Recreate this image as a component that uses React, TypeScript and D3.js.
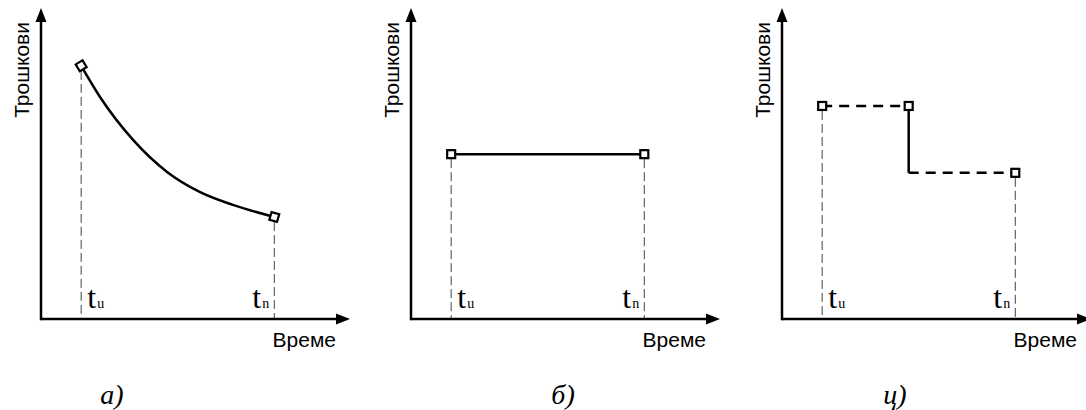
import React from "react";
import * as d3 from "d3";

// ---- data (percent of axis length) ----
const panelNames = ["а)", "б)", "ц)"];
const timeTicks = [13, 75.5];
const tickLabels = ["u", "n"];
const curveA: [number, number][] = [
  [13, 81.4], [19.1, 71.4], [29.8, 57.6], [40.8, 47.3], [51.5, 40.8], [62.1, 36.7], [75.5, 32.8],
];
const flatB: [number, number][] = [[13, 53], [75.5, 53]];
const stepHigh: [number, number][] = [[13, 68.5], [41, 68.5]];
const stepDrop: [number, number][] = [[41, 68.5], [41, 47]];
const stepLow: [number, number][] = [[41, 47], [75.5, 47]];
const stepMarkers: [number, number][] = [[13, 68.5], [41, 68.5], [75.5, 47]];

// ---- layout ----
const W = 1086, H = 410;
const axisY = 319, axisTop = 8, axisLen = 309;
const panelLeft = [41, 411, 782];
const nameX = [112, 563, 895];

const FONT_SANS = "Liberation Sans, Arial, sans-serif";
const FONT_SERIF = "Liberation Serif, Times New Roman, serif";

function Marker({ x, y, angle = 0 }: { x: number; y: number; angle?: number }) {
  const s = 8;
  return (
    <rect
      x={-s / 2}
      y={-s / 2}
      width={s}
      height={s}
      fill="#fff"
      stroke="#000"
      strokeWidth={2.2}
      transform={`translate(${x},${y}) rotate(${angle})`}
    />
  );
}

function Panel({ idx }: { idx: number }) {
  const x0 = panelLeft[idx];
  const x = d3.scaleLinear().domain([0, 100]).range([x0, x0 + axisLen]);
  const y = d3.scaleLinear().domain([0, 100]).range([axisY, axisTop]);
  const line = d3.line<[number, number]>().x((d) => x(d[0])).y((d) => y(d[1]));
  const curve = d3
    .line<[number, number]>()
    .x((d) => x(d[0]))
    .y((d) => y(d[1]))
    .curve(d3.curveMonotoneX);

  const tipX = x(100);
  const tipY = y(100);
  const ang = (a: [number, number], b: [number, number]) =>
    (Math.atan2(y(b[1]) - y(a[1]), x(b[0]) - x(a[0])) * 180) / Math.PI;

  let marks: React.ReactNode = null;
  let pts: [number, number][] = [];
  if (idx === 0) {
    pts = [curveA[0], curveA[curveA.length - 1]];
    marks = (
      <g>
        <path d={curve(curveA) || ""} fill="none" stroke="#000" strokeWidth={2.5} />
        <Marker x={x(curveA[0][0])} y={y(curveA[0][1])} angle={ang(curveA[0], curveA[1]) - 90} />
        <Marker
          x={x(curveA[curveA.length - 1][0])}
          y={y(curveA[curveA.length - 1][1])}
          angle={ang(curveA[curveA.length - 2], curveA[curveA.length - 1])}
        />
      </g>
    );
  } else if (idx === 1) {
    pts = flatB;
    marks = (
      <g>
        <path d={line(flatB) || ""} fill="none" stroke="#000" strokeWidth={2.5} />
        {flatB.map((p, i) => (
          <Marker key={i} x={x(p[0])} y={y(p[1])} />
        ))}
      </g>
    );
  } else {
    pts = [stepMarkers[0], stepMarkers[2]];
    marks = (
      <g>
        <path d={line(stepHigh) || ""} fill="none" stroke="#000" strokeWidth={2.5} strokeDasharray="10,7" />
        <path d={line(stepDrop) || ""} fill="none" stroke="#000" strokeWidth={2.5} />
        <path d={line(stepLow) || ""} fill="none" stroke="#000" strokeWidth={2.5} strokeDasharray="10,7" />
        {stepMarkers.map((p, i) => (
          <Marker key={i} x={x(p[0])} y={y(p[1])} />
        ))}
      </g>
    );
  }

  return (
    <g>
      {/* drop lines */}
      {pts.map((p, i) => (
        <line
          key={i}
          x1={x(p[0])}
          x2={x(p[0])}
          y1={y(p[1]) + 5}
          y2={axisY}
          stroke="#444"
          strokeWidth={1}
          strokeDasharray="9,4"
        />
      ))}
      {/* axes */}
      <line x1={x0} x2={tipX - 12} y1={axisY} y2={axisY} stroke="#000" strokeWidth={2.5} />
      <line x1={x0} x2={x0} y1={axisY + 1.25} y2={tipY + 12} stroke="#000" strokeWidth={2.5} />
      <path d={`M${tipX},${axisY} L${tipX - 14},${axisY - 5.5} L${tipX - 14},${axisY + 5.5} Z`} fill="#000" />
      <path d={`M${x0},${tipY} L${x0 - 5.5},${tipY + 14} L${x0 + 5.5},${tipY + 14} Z`} fill="#000" />
      {marks}
      {/* t labels */}
      {timeTicks.map((t, i) => {
        const tx = i === 0 ? x(t) + 6 : x(t) - 22;
        return (
          <g key={i}>
            <text x={tx} y={308} style={{ fontFamily: FONT_SERIF, fontSize: "32px" }}>
              t
            </text>
            <text x={tx + 10} y={308} style={{ fontFamily: FONT_SERIF, fontSize: "14px" }}>
              {tickLabels[i]}
            </text>
          </g>
        );
      })}
      {/* axis titles */}
      <text x={x0 + 295} y={347} textAnchor="end" style={{ fontFamily: FONT_SANS, fontSize: "21px" }}>
        Време
      </text>
      <text
        transform={`translate(${x0 - 12},22) rotate(-90)`}
        textAnchor="end"
        style={{ fontFamily: FONT_SANS, fontSize: "21px" }}
      >
        Трошкови
      </text>
      <text
        x={nameX[idx]}
        y={404}
        textAnchor="middle"
        style={{ fontFamily: FONT_SERIF, fontStyle: "italic", fontSize: "28px" }}
      >
        {panelNames[idx]}
      </text>
    </g>
  );
}

export default function App() {
  return (
    <svg width={W} height={H} style={{ display: "block", position: "absolute", left: 0, top: 0, background: "#fff" }}>
      <rect width={W} height={H} fill="#fff" />
      {[0, 1, 2].map((i) => (
        <Panel key={i} idx={i} />
      ))}
    </svg>
  );
}
